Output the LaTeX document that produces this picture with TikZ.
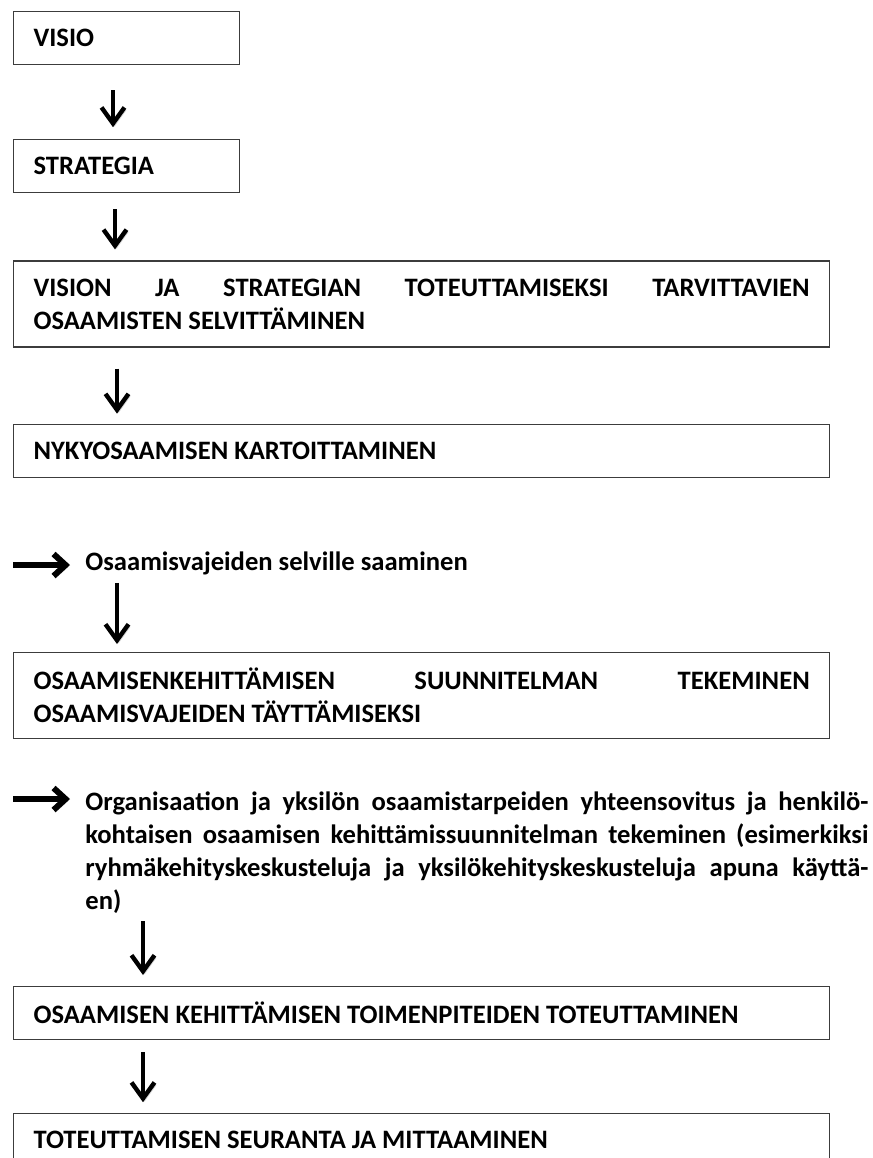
\documentclass[tikz,border=0pt]{standalone}
\usepackage{fontspec}
\setmainfont{Carlito}
\usetikzlibrary{arrows.meta,positioning}
\definecolor{framegray}{RGB}{60,60,60}
\definecolor{shadowgray}{RGB}{210,210,210}
\newcommand{\flowfont}{\fontsize{13.3}{16.5}\selectfont\bfseries}
\tolerance=10000
\hyphenpenalty=10000
\tikzset{
  box/.style={
    rectangle, draw=framegray, line width=0.6pt,
    fill=white, font=\flowfont,
    inner xsep=10pt, inner ysep=3pt, minimum height=26.5pt
  },
  smallbox/.style={box, text width=93pt, align=left},
  widebox/.style={box, text width=388pt, align=justify},
  twoline/.style={minimum height=43pt},
  note/.style={font=\flowfont, inner sep=0pt, anchor=base west},
  arrow/.style={
    -{Straight Barb[length=8pt,width=11.5pt]}, line width=2.2pt, draw=black,
    preaction={draw=shadowgray, transform canvas={shift={(0.8pt,-1.2pt)}}}
  },
  sidearrow/.style={arrow, line width=3pt, -{Straight Barb[length=6pt,width=11pt]}},
}

\begin{document}
\begin{tikzpicture}[x=0.5pt, y=-0.5pt]
\useasboundingbox (0,0) rectangle (873,1158);
% --- Nodes ---
\node[smallbox, anchor=north west] (visio) at (13,11) {VISIO};
\node[smallbox, below=37pt of visio.south west, anchor=north west] (strategia) {STRATEGIA};
\node[widebox, twoline, below=33.5pt of strategia.south west, anchor=north west] (tarve) {
  VISION JA STRATEGIAN TOTEUTTAMISEKSI TARVITTAVIEN\linebreak OSAAMISTEN SELVITTÄMINEN
};
\node[widebox, below=38pt of tarve.south west, anchor=north west] (nyky) {NYKYOSAAMISEN KARTOITTAMINEN};
\node[note] (vaje) at (85,570) {Osaamisvajeiden selville saaminen};
\node[widebox, twoline, anchor=north west] (suunnitelma) at (13,652) {
  OSAAMISENKEHITTÄMISEN SUUNNITELMAN TEKEMINEN\linebreak OSAAMISVAJEIDEN TÄYTTÄMISEKSI
};
\node[note, text width=391.5pt, align=justify] (sovitus) at (85,810) {
  Organisaation ja yksilön osaamistarpeiden yhteensovitus ja henkilö-\linebreak
  kohtaisen osaamisen kehittämissuunnitelman tekeminen (esimerkiksi\linebreak
  ryhmäkehityskeskusteluja ja yksilökehityskeskusteluja apuna käyttä-\linebreak
  en)
};
\node[widebox, anchor=north west] (toimet) at (13,986) {OSAAMISEN KEHITTÄMISEN TOIMENPITEIDEN TOTEUTTAMINEN};
\node[widebox, below=36.5pt of toimet.south west, anchor=north west] (seuranta) {TOTEUTTAMISEN SEURANTA JA MITTAAMINEN};
\coordinate (in1) at (13,565);
\coordinate (in2) at (13,799);
% --- Arrows ---
\draw[arrow, shorten <=12.5pt, shorten >=6pt] ([xshift=50pt]visio.south west) -- ([xshift=50pt]strategia.north west);
\draw[arrow, shorten <=8pt, shorten >=5.5pt] ([xshift=51pt]strategia.south west) -- ([xshift=51pt]tarve.north west);
\draw[arrow, shorten <=10.5pt, shorten >=5pt] ([xshift=52pt]tarve.south west) -- ([xshift=52pt]nyky.north west);
\draw[sidearrow, shorten >=7.5pt] (in1) -- (in1 -| vaje.west);
\draw[arrow, shorten <=4pt, shorten >=4pt] ([xshift=16pt]vaje.south west) -- ([xshift=52pt]suunnitelma.north west);
\draw[sidearrow, shorten >=7.5pt] (in2) -- (in2 -| sovitus.west);
\draw[arrow, shorten <=4pt, shorten >=5.5pt] ([xshift=29pt]sovitus.south west) -- ([xshift=65pt]toimet.north west);
\draw[arrow, shorten <=6pt, shorten >=5.5pt] ([xshift=65pt]toimet.south west) -- ([xshift=65pt]seuranta.north west);
\end{tikzpicture}
\end{document}
